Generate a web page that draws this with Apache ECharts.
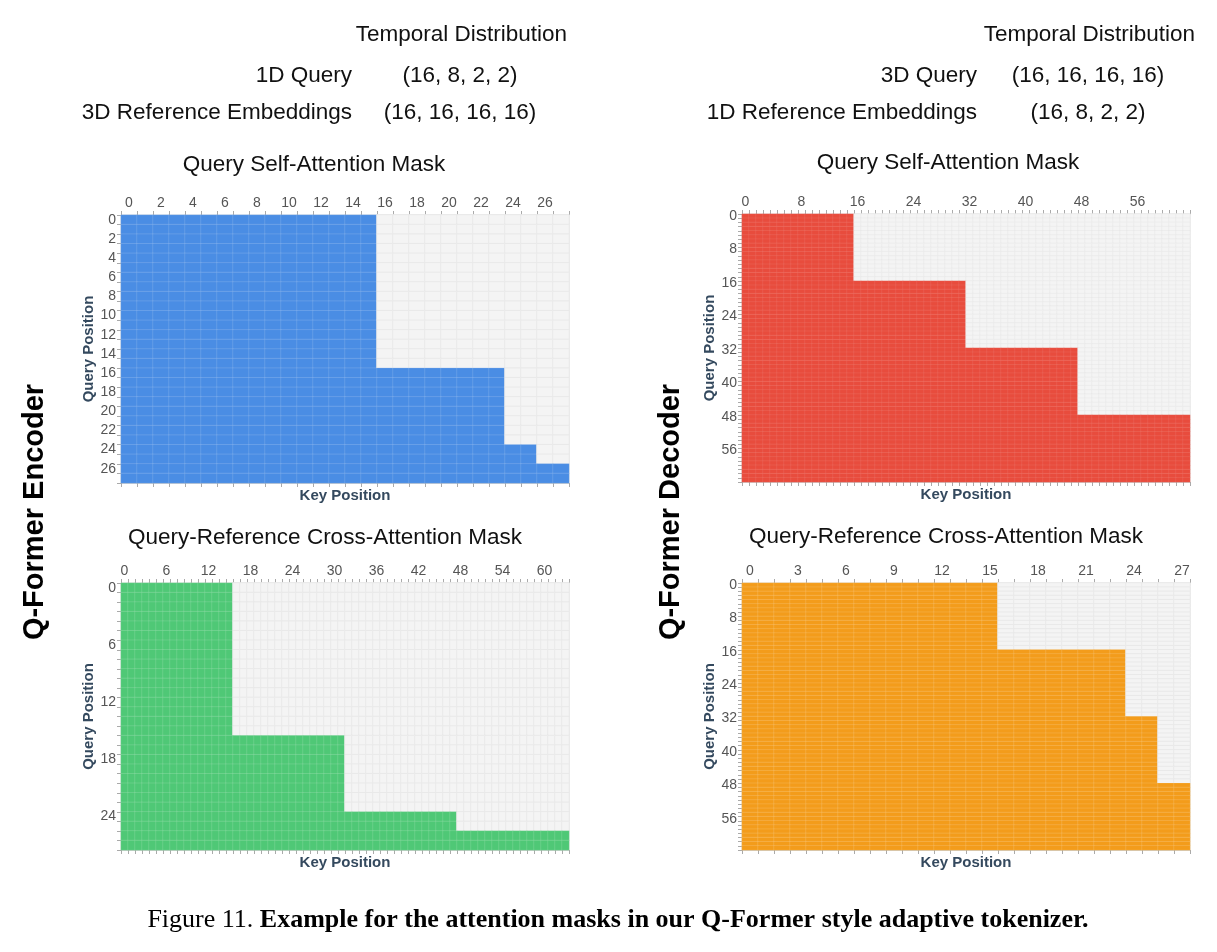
<!DOCTYPE html>
<html>
<head>
<meta charset="utf-8">
<script src="https://cdn.jsdelivr.net/npm/echarts@6/dist/echarts.min.js"></script>
<style>
  html, body { margin: 0; padding: 0; background: #fff; }
  #chart { width: 1217px; height: 952px; }
</style>
</head>
<body>
<div id="chart"></div>
<script>
// block sizes of the query tokens and how many keys each block may see
const encQueryBlocks = [16, 8, 2, 2]
const encSelfVisible = [16, 24, 26, 28]
const encCrossVisible = [16, 32, 48, 64]
const decQueryBlocks = [16, 16, 16, 16]
const decSelfVisible = [16, 32, 48, 64]
const decCrossVisible = [16, 24, 26, 28]

const panelKeyCounts = [28, 64, 64, 28]
const panelTitles = [
  'Query Self-Attention Mask',
  'Query-Reference Cross-Attention Mask',
  'Query Self-Attention Mask',
  'Query-Reference Cross-Attention Mask',
]
const xLabelStep = [2, 6, 8, 3]
const yLabelStep = [2, 6, 8, 8]
const maskColors = ['#4a8de4', '#4fc876', '#e84c3d', '#f39c1b']

const panels = [
  { blocks: encQueryBlocks, visible: encSelfVisible },
  { blocks: encQueryBlocks, visible: encCrossVisible },
  { blocks: decQueryBlocks, visible: decSelfVisible },
  { blocks: decQueryBlocks, visible: decCrossVisible },
]

const grids = [
  { left: 121, top: 215, width: 448, height: 268 },
  { left: 121, top: 583, width: 448, height: 267 },
  { left: 742, top: 214, width: 448, height: 268 },
  { left: 742, top: 583, width: 448, height: 267 },
]

const range = n => Array.from({ length: n }, (_, i) => String(i))

function buildCells(blocks, visible, nKeys) {
  const cells = []
  let row = 0
  blocks.forEach((size, b) => {
    for (let r = 0; r < size; r++, row++) {
      for (let k = 0; k < nKeys; k++) {
        const on = k < visible[b] ? 1 : 0
        cells.push({
          value: [k, row, on],
          itemStyle: { borderColor: on ? 'rgba(255,255,255,0.13)' : '#e9e9e9' },
        })
      }
    }
  })
  return cells
}

const FONT = 'Liberation Sans, Arial, sans-serif'
const tickStyle = { show: true, interval: 0, length: 4, lineStyle: { color: '#aaa' } }
const nameStyle = { color: '#34495e', fontWeight: 'bold', fontSize: 15, fontFamily: FONT }

const xAxis = []
const yAxis = []
const series = []
const visualMap = []

panels.forEach((p, i) => {
  const nRows = p.blocks.reduce((a, b) => a + b, 0)
  const keys = range(panelKeyCounts[i])
  const rows = range(nRows)
  xAxis.push({
    type: 'category', gridIndex: i, position: 'top', data: keys,
    axisLabel: { interval: xLabelStep[i] - 1, color: '#555', fontSize: 14, margin: 5, fontFamily: FONT },
    axisTick: tickStyle,
    axisLine: { lineStyle: { color: '#ccc' } },
    splitLine: { show: false },
  })
  xAxis.push({
    type: 'category', gridIndex: i, position: 'bottom', data: keys,
    axisLabel: { show: false },
    axisTick: tickStyle,
    axisLine: { lineStyle: { color: '#ccc' } },
    name: 'Key Position', nameLocation: 'middle', nameGap: 5,
    nameTextStyle: nameStyle,
  })
  yAxis.push({
    type: 'category', gridIndex: i, inverse: true, data: rows,
    axisLabel: { interval: yLabelStep[i] - 1, color: '#555', fontSize: 14, margin: 5, fontFamily: FONT },
    axisTick: tickStyle,
    axisLine: { lineStyle: { color: '#ccc' } },
    name: 'Query Position', nameLocation: 'middle', nameGap: 25,
    nameTextStyle: nameStyle,
  })
  series.push({
    type: 'heatmap', xAxisIndex: 2 * i, yAxisIndex: i,
    data: buildCells(p.blocks, p.visible, panelKeyCounts[i]),
    itemStyle: { borderWidth: i === 2 ? 0.6 : 1 },
    emphasis: { disabled: true },
    animation: false,
  })
  visualMap.push({
    type: 'piecewise', show: false, seriesIndex: i, dimension: 2,
    pieces: [{ value: 0, color: '#f4f4f4' }, { value: 1, color: maskColors[i] }],
  })
})

const textEl = (text, x, y, opts = {}) => ({
  type: 'text', x, y, rotation: opts.rotation || 0,
  style: {
    text, fill: opts.color || '#111', font: opts.font || `22.5px ${FONT}`,
    align: opts.align || 'center', verticalAlign: 'middle',
  },
})

const graphic = [
  textEl('Temporal Distribution', 567, 35, { align: 'right' }),
  textEl('1D Query', 352, 76, { align: 'right' }),
  textEl('(16, 8, 2, 2)', 460, 76),
  textEl('3D Reference Embeddings', 352, 113, { align: 'right' }),
  textEl('(16, 16, 16, 16)', 460, 113),
  textEl('Temporal Distribution', 1195, 35, { align: 'right' }),
  textEl('3D Query', 977, 76, { align: 'right' }),
  textEl('(16, 16, 16, 16)', 1088, 76),
  textEl('1D Reference Embeddings', 977, 113, { align: 'right' }),
  textEl('(16, 8, 2, 2)', 1088, 113),
  textEl(panelTitles[0], 314, 165),
  textEl(panelTitles[1], 325, 538),
  textEl(panelTitles[2], 948, 163),
  textEl(panelTitles[3], 946, 537),
  textEl('Q-Former Encoder', 35, 512, { rotation: Math.PI / 2, font: `bold 29px ${FONT}`, color: '#000' }),
  textEl('Q-Former Decoder', 671, 512, { rotation: Math.PI / 2, font: `bold 29px ${FONT}`, color: '#000' }),
  {
    type: 'text', x: 618, y: 920,
    style: {
      text: '{n|Figure 11. }{b|Example for the attention masks in our Q-Former style adaptive tokenizer.}',
      align: 'center', verticalAlign: 'middle',
      rich: {
        n: { font: '26px Liberation Serif, serif', fill: '#000' },
        b: { font: 'bold 26px Liberation Serif, serif', fill: '#000' },
      },
    },
  },
]

const chart = echarts.init(document.getElementById('chart'))
chart.setOption({
  animation: false,
  backgroundColor: '#fff',
  grid: grids.map(g => ({ ...g, show: true, backgroundColor: '#f4f4f4', borderColor: '#d8d8d8', borderWidth: 1 })),
  xAxis, yAxis, series, visualMap, graphic,
})
</script>
</body>
</html>
